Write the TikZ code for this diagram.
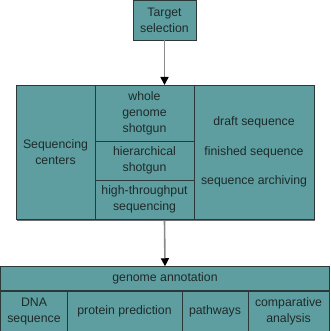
\documentclass[tikz,border=0pt]{standalone}
\usepackage{fontspec}
\setmainfont{Liberation Sans}
\usetikzlibrary{arrows.meta}
\definecolor{tealfill}{HTML}{5F9EA0}
\definecolor{edgec}{HTML}{2B3838}
\definecolor{linec}{HTML}{8A8A8A}
\definecolor{txt}{HTML}{1E2A2A}
\tikzset{
  cell/.style={draw=edgec, fill=tealfill, line width=0.9pt, inner sep=0pt, outer sep=0pt,
    font=\fontsize{12.3}{16}\selectfont, text=txt, align=center},
  conn/.style={draw=linec, line width=1.6pt, -{Triangle[length=8pt,width=8pt,color=black]}}
}
\begin{document}
\begin{tikzpicture}[x=1pt,y=-1pt]
\useasboundingbox (0,0) rectangle (330,331);
% target
\node[cell, minimum width=63pt, minimum height=40pt] (target) at (164.5,20.5) {Target\\selection};
% shadow middle
\fill[linec!80!black] (17,88) rectangle (315,221);
% middle block
\node[cell, minimum width=79pt, minimum height=134pt] (sc) at (55.5,152) {Sequencing\\centers};
\node[cell, minimum width=99pt, minimum height=56pt] (wgs) at (144.5,113) {whole\\genome\\shotgun};
\node[cell, minimum width=99pt, minimum height=39pt] (hs) at (144.5,160.5) {hierarchical\\shotgun};
\node[cell, minimum width=99pt, minimum height=39pt] (hts) at (144.5,199.5) {high-throughput\\sequencing};
\node[cell, minimum width=120pt, minimum height=134pt, font=\fontsize{12.3}{29.5}\selectfont] (res) at (254,152) {draft sequence\\finished sequence\\sequence archiving};
% bottom block
\node[cell, minimum width=329pt, minimum height=24.5pt] (ga) at (165,278.5) {genome annotation};
\node[cell, minimum width=67pt, minimum height=41pt] (dna) at (34,311.5) {DNA\\sequence};
\node[cell, minimum width=115pt, minimum height=41pt] (pp) at (124.5,311.5) {protein prediction};
\node[cell, minimum width=66pt, minimum height=41pt] (pw) at (215,311.5) {pathways};
\node[cell, minimum width=81pt, minimum height=41pt] (ca) at (288.5,311.5) {comparative\\analysis};
% connectors
\draw[conn] (target.south) -- (wgs.north -| target.south);
\draw[conn] (hts.south -| target.south) ++(0,2) -- (ga.north);
\end{tikzpicture}
\end{document}
